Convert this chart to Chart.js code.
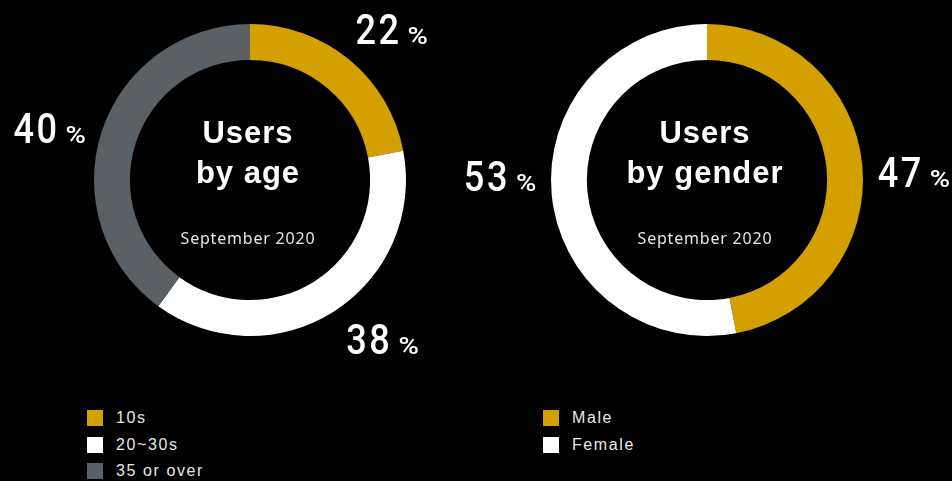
<!DOCTYPE html>
<html>
<head>
<meta charset="utf-8">
<script src="https://cdn.jsdelivr.net/npm/chart.js@4/dist/chart.umd.min.js"></script>
<style>
  html, body { margin: 0; padding: 0; background: #000; }
  body { width: 952px; height: 481px; position: relative; overflow: hidden; }
  .chart-box { position: absolute; top: 0; height: 390px; }
  #box-age { left: 0; width: 456px; }
  #box-gender { left: 456px; width: 496px; }
  .legend { position: absolute; top: 409px; margin: 0; padding: 0; list-style: none;
            font-family: "Liberation Sans", Arial, sans-serif; font-size: 16px;
            letter-spacing: 1.6px; color: #e8e8e8; }
  .legend li { height: 26.5px; display: flex; align-items: flex-start; }
  .legend .sw { width: 16px; height: 16px; margin-right: 13px; margin-top: 1px; }
  .legend span.tx { line-height: 18px; }
  #legend-age { left: 87px; }
  #legend-gender { left: 543px; }
</style>
</head>
<body>
<div class="chart-box" id="box-age"><canvas id="grafico-idade"></canvas></div>
<div class="chart-box" id="box-gender"><canvas id="grafico-genero"></canvas></div>
<ul class="legend" id="legend-age"></ul>
<ul class="legend" id="legend-gender"></ul>

<script>
(function () {
    'use strict';

    var GOLD  = '#d4a000';
    var WHITE = '#ffffff';
    var GRAY  = '#5a6064';

    // age breakdown
    var ageLabels = ['10s', '20~30s', '35 or over'];
    var ageValues = [22, 38, 40];
    var ageColors = [GOLD, WHITE, GRAY];

    // gender breakdown
    var genderLabels = ['Male', 'Female'];
    var genderValues = [47, 53];
    var genderColors = [GOLD, WHITE];

    var subtitle = 'September 2020';

    var NUM_FONT = '500 43px Roboto, "DejaVu Sans", sans-serif';
    var PCT_FONT = '500 24px Roboto, "DejaVu Sans", sans-serif';
    var SQUEEZE = 0.84; // narrow the numbers horizontally
    var PCT_GAP = 6;

    // value labels around the ring, placed at the arc's mid angle (+ small nudge in degrees)
    var ringLabels = {
        id: 'ringLabels',
        afterDraw: function (chart, args, opts) {
            var ctx = chart.ctx;
            var meta = chart.getDatasetMeta(0);
            var values = chart.data.datasets[0].data;
            ctx.save();
            ctx.fillStyle = '#ffffff';
            ctx.textBaseline = 'alphabetic';
            ctx.textAlign = 'left';
            meta.data.forEach(function (arc, i) {
                var p = arc.getProps(['x', 'y', 'startAngle', 'endAngle']);
                var ang = (p.startAngle + p.endAngle) / 2 + ((opts.nudge[i] || 0) * Math.PI / 180);
                var cx = p.x + Math.cos(ang) * opts.radius;
                var cy = p.y + Math.sin(ang) * opts.radius;

                var num = String(values[i]);
                ctx.font = NUM_FONT;
                ctx.letterSpacing = '3px';
                var wNum = ctx.measureText(num).width * SQUEEZE;
                ctx.font = PCT_FONT;
                ctx.letterSpacing = '0px';
                var wPct = ctx.measureText('%').width * 1.15;
                var x0 = cx - (wNum + PCT_GAP + wPct) / 2;
                var base = cy + 15;

                ctx.save();
                ctx.translate(x0, base);
                ctx.scale(SQUEEZE, 1);
                ctx.font = NUM_FONT;
                ctx.letterSpacing = '3px';
                ctx.fillText(num, 0, 0);
                ctx.restore();

                // the percent sign is a little wider than the font's own
                ctx.save();
                ctx.translate(x0 + wNum + PCT_GAP, base);
                ctx.scale(1.15, 1);
                ctx.font = PCT_FONT;
                ctx.letterSpacing = '0px';
                ctx.fillText('%', 0, 0);
                ctx.restore();
            });
            ctx.restore();
        }
    };

    // title in the hole of the doughnut
    var centerText = {
        id: 'centerText',
        afterDraw: function (chart, args, opts) {
            var ctx = chart.ctx;
            var arc = chart.getDatasetMeta(0).data[0];
            if (!arc) return;
            var x = arc.x, y = arc.y;
            ctx.save();
            ctx.textAlign = 'center';
            ctx.textBaseline = 'alphabetic';
            ctx.fillStyle = '#ffffff';
            ctx.font = 'bold 31px "Liberation Sans", Arial, sans-serif';
            ctx.letterSpacing = '1px';
            opts.lines.forEach(function (line, i) {
                ctx.fillText(line, x - 2, y - 37 + i * 40);
            });
            ctx.fillStyle = '#e6e6e6';
            ctx.font = '16px "Noto Sans", "Open Sans", sans-serif';
            ctx.letterSpacing = '0.8px';
            ctx.fillText(opts.sub, x - 2, y + 64);
            ctx.restore();
        }
    };

    function buildLegend(id, labels, colors) {
        var ul = document.getElementById(id);
        labels.forEach(function (label, i) {
            var li = document.createElement('li');
            var sw = document.createElement('span');
            sw.className = 'sw';
            sw.style.background = colors[i];
            var tx = document.createElement('span');
            tx.className = 'tx';
            tx.textContent = label;
            li.appendChild(sw);
            li.appendChild(tx);
            ul.appendChild(li);
        });
    }

    function makeDoughnut(canvasId, labels, values, colors, padding, title, nudge) {
        return new Chart(document.getElementById(canvasId), {
            type: 'doughnut',
            data: {
                labels: labels,
                datasets: [{
                    data: values,
                    backgroundColor: colors,
                    borderWidth: 0
                }]
            },
            options: {
                responsive: true,
                maintainAspectRatio: false,
                animation: false,
                cutout: '77%',
                layout: { padding: padding },
                plugins: {
                    legend: { display: false },
                    tooltip: { enabled: false },
                    ringLabels: { radius: 207, nudge: nudge },
                    centerText: { lines: title, sub: subtitle }
                }
            },
            plugins: [ringLabels, centerText]
        });
    }

    function init() {
        makeDoughnut('grafico-idade', ageLabels, ageValues, ageColors,
            { left: 94, right: 50, top: 24, bottom: 54 },
            ['Users', 'by age'], [3.6, -7.4, -3.5]);
        makeDoughnut('grafico-genero', genderLabels, genderValues, genderColors,
            { left: 95, right: 89, top: 24, bottom: 54 },
            ['Users', 'by gender'], [3.3, 6.5]);
        buildLegend('legend-age', ageLabels, ageColors);
        buildLegend('legend-gender', genderLabels, genderColors);
    }

    init();
})();
</script>
</body>
</html>
